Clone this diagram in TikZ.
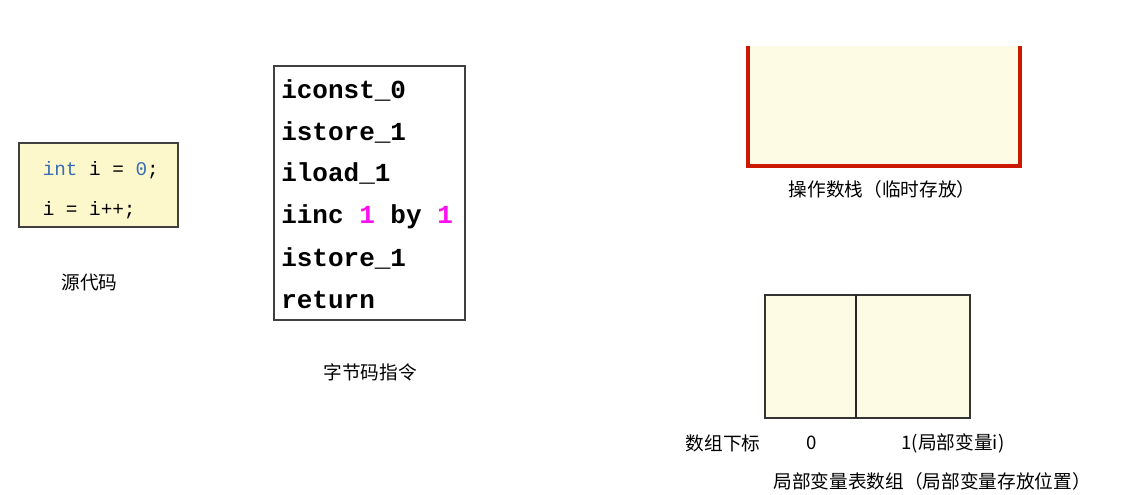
\documentclass[tikz,border=0pt]{standalone}
\usepackage{fontspec}
\setmonofont{Liberation Mono}
\newfontfamily\cjk{Noto Sans CJK SC}

\definecolor{codebg}{HTML}{FDF8CC}
\definecolor{slotbg}{HTML}{FEFBE5}
\definecolor{kwblue}{HTML}{3A6DB3}
\definecolor{numpink}{HTML}{FF10F0}
\definecolor{stackred}{HTML}{CC1800}

\begin{document}
\begin{tikzpicture}
  [x=0.75pt,y=-0.75pt,every node/.style={inner sep=0pt},
   caption/.style={font=\cjk\fontsize{14}{16}\selectfont},
   srcline/.style={anchor=base west,font=\ttfamily\fontsize{14.5}{16}\selectfont},
   opline/.style={anchor=base west,font=\ttfamily\bfseries\fontsize{19.5}{22}\selectfont}]
  \useasboundingbox (0,0) rectangle (1127,494);

  % source code
  \draw[fill=codebg,draw=black!75,line width=1pt] (19,143) rectangle (178,227);
  \node[srcline] (s1) at (42.5,175.5) {\textcolor{kwblue}{int} i = \textcolor{kwblue}{0};};
  \node[srcline] (s2) at (42.5,215) {i = i++;};
  \node[caption] (src) at (89.5,283) {源代码};

  % bytecode
  \draw[fill=white,draw=black!75,line width=1pt] (274,66) rectangle (465,320);
  \foreach \ins/\y [count=\k] in {iconst\_0/98, istore\_1/140, iload\_1/181,
      {iinc \textcolor{numpink}{1} by \textcolor{numpink}{1}}/223, istore\_1/266, return/308}
    \node[opline] (op\k) at (281,\y) {\ins};
  \node[caption] (bc) at (370,372) {字节码指令};

  % operand stack
  \fill[slotbg] (748,46) rectangle (1020,166);
  \draw[stackred,line width=2.6pt,line join=miter] (748,46) -- (748,166) -- (1020,166) -- (1020,46);
  \node[caption] (stk) at (882,189) {操作数栈（临时存放）};

  % local variable table
  \draw[fill=slotbg,draw=black!80,line width=1pt] (765,295) rectangle (970,418);
  \draw[black!85,line width=1pt] (856,295) -- (856,418);
  \node[caption] (idx) at (723,443) {数组下标};
  \node[caption] (i0) at (812,443) {0};
  \node[caption] (i1) at (953,443) {1(局部变量i)};
  \node[caption] (lvt) at (932,481) {局部变量表数组（局部变量存放位置）};
\end{tikzpicture}
\end{document}
